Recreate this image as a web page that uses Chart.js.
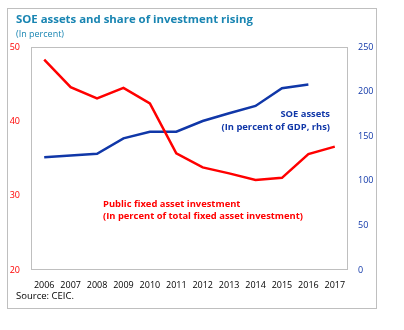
<!DOCTYPE html>
<html>
<head>
<meta charset="utf-8">
<script src="https://cdn.jsdelivr.net/npm/chart.js@4"></script>
<style>
  body { margin: 0; background: #fff; }
  #wrap { position: relative; width: 404px; height: 330px; font-family: "Open Sans", sans-serif; }
  #frame { position: absolute; left: 7px; top: 8px; width: 368px; height: 299px; border: 1px solid #bfbfbf; }
  #title { position: absolute; left: 16px; top: 11px; font-size: 11.4px; font-weight: bold; color: #1985b2; white-space: nowrap; }
  #sub { position: absolute; left: 16px; top: 27px; font-size: 9px; color: #1985b2; }
  #source { position: absolute; left: 16px; top: 289px; font-size: 9.5px; color: #000; }
  canvas { position: absolute; left: 0; top: 0; }
</style>
</head>
<body>
<div id="wrap">
  <div id="frame"></div>
  <canvas id="chart" width="404" height="330"></canvas>
  <div id="title">SOE assets and share of investment rising</div>
  <div id="sub">(In percent)</div>
  <div id="source">Source: CEIC.</div>
</div>
<script>
const years = ["2006", "2007", "2008", "2009", "2010", "2011", "2012", "2013", "2014", "2015", "2016", "2017"];
// public fixed asset investment, % of total FAI (left axis)
const publicFai = [48.3, 44.6, 43.1, 44.5, 42.4, 35.7, 33.8, 33.0, 32.1, 32.4, 35.6, 36.6];
// SOE assets, % of GDP (right axis)
const soeAssets = [126.5, 128.5, 130.3, 147.6, 155, 155, 167, 175.7, 183.9, 203.7, 208, null];

const RED = "#ff0000";
const BLUE = "#1037a8";

// frame around the plot area plus the two in-chart labels
const extras = {
  id: "extras",
  afterDraw(chart) {
    const { ctx, chartArea: a } = chart;
    ctx.save();
    ctx.setLineDash([]);
    ctx.fillStyle = "#bfbfbf";
    const l = Math.round(a.left), t = Math.round(a.top);
    const r = Math.round(a.right), b = Math.round(a.bottom);
    ctx.fillRect(l, t, r - l, 1);
    ctx.fillRect(l, b - 1, r - l, 1);
    ctx.fillRect(l, t, 1, b - t);
    ctx.fillRect(r - 1, t, 1, b - t);

    ctx.font = "bold 9.4px 'Open Sans', sans-serif";
    ctx.textBaseline = "middle";
    ctx.fillStyle = BLUE;
    ctx.textAlign = "right";
    ctx.fillText("SOE assets", 330, 114);
    ctx.fillText("(In percent of GDP, rhs)", 330, 127);

    ctx.fillStyle = RED;
    ctx.textAlign = "left";
    ctx.fillText("Public fixed asset investment", 103, 204);
    ctx.fillText("(In percent of total fixed asset investment)", 103, 216);
    ctx.restore();
  }
};

const tickFont = { family: "'Open Sans', sans-serif", size: 9 };
const noGrid = { display: false, drawTicks: false, tickLength: 0 };

new Chart(document.getElementById("chart"), {
  type: "line",
  data: {
    labels: years,
    datasets: [
      {
        data: publicFai,
        yAxisID: "y",
        borderColor: RED,
        borderWidth: 2.5,
        pointRadius: 0,
        tension: 0
      },
      {
        data: soeAssets,
        yAxisID: "y2",
        borderColor: BLUE,
        borderWidth: 2.5,
        pointRadius: 0,
        tension: 0
      }
    ]
  },
  options: {
    responsive: false,
    animation: false,
    layout: { padding: { left: 0, right: 0, top: 47, bottom: 38 } },
    plugins: { legend: { display: false }, tooltip: { enabled: false } },
    scales: {
      x: {
        offset: true,
        grid: noGrid,
        border: { display: false },
        ticks: { color: "#000", font: tickFont, padding: 10, maxRotation: 0, autoSkip: false },
        afterFit(s) { s.height = 22; }
      },
      y: {
        position: "left",
        min: 20,
        max: 50,
        grid: noGrid,
        border: { display: false },
        ticks: { stepSize: 10, color: RED, font: tickFont, padding: 11 },
        afterFit(s) { s.width = 31; }
      },
      y2: {
        position: "right",
        min: 0,
        max: 250,
        grid: noGrid,
        border: { display: false },
        ticks: { stepSize: 50, color: BLUE, font: tickFont, padding: 10 },
        afterFit(s) { s.width = 56; }
      }
    }
  },
  plugins: [extras]
});
</script>
</body>
</html>
